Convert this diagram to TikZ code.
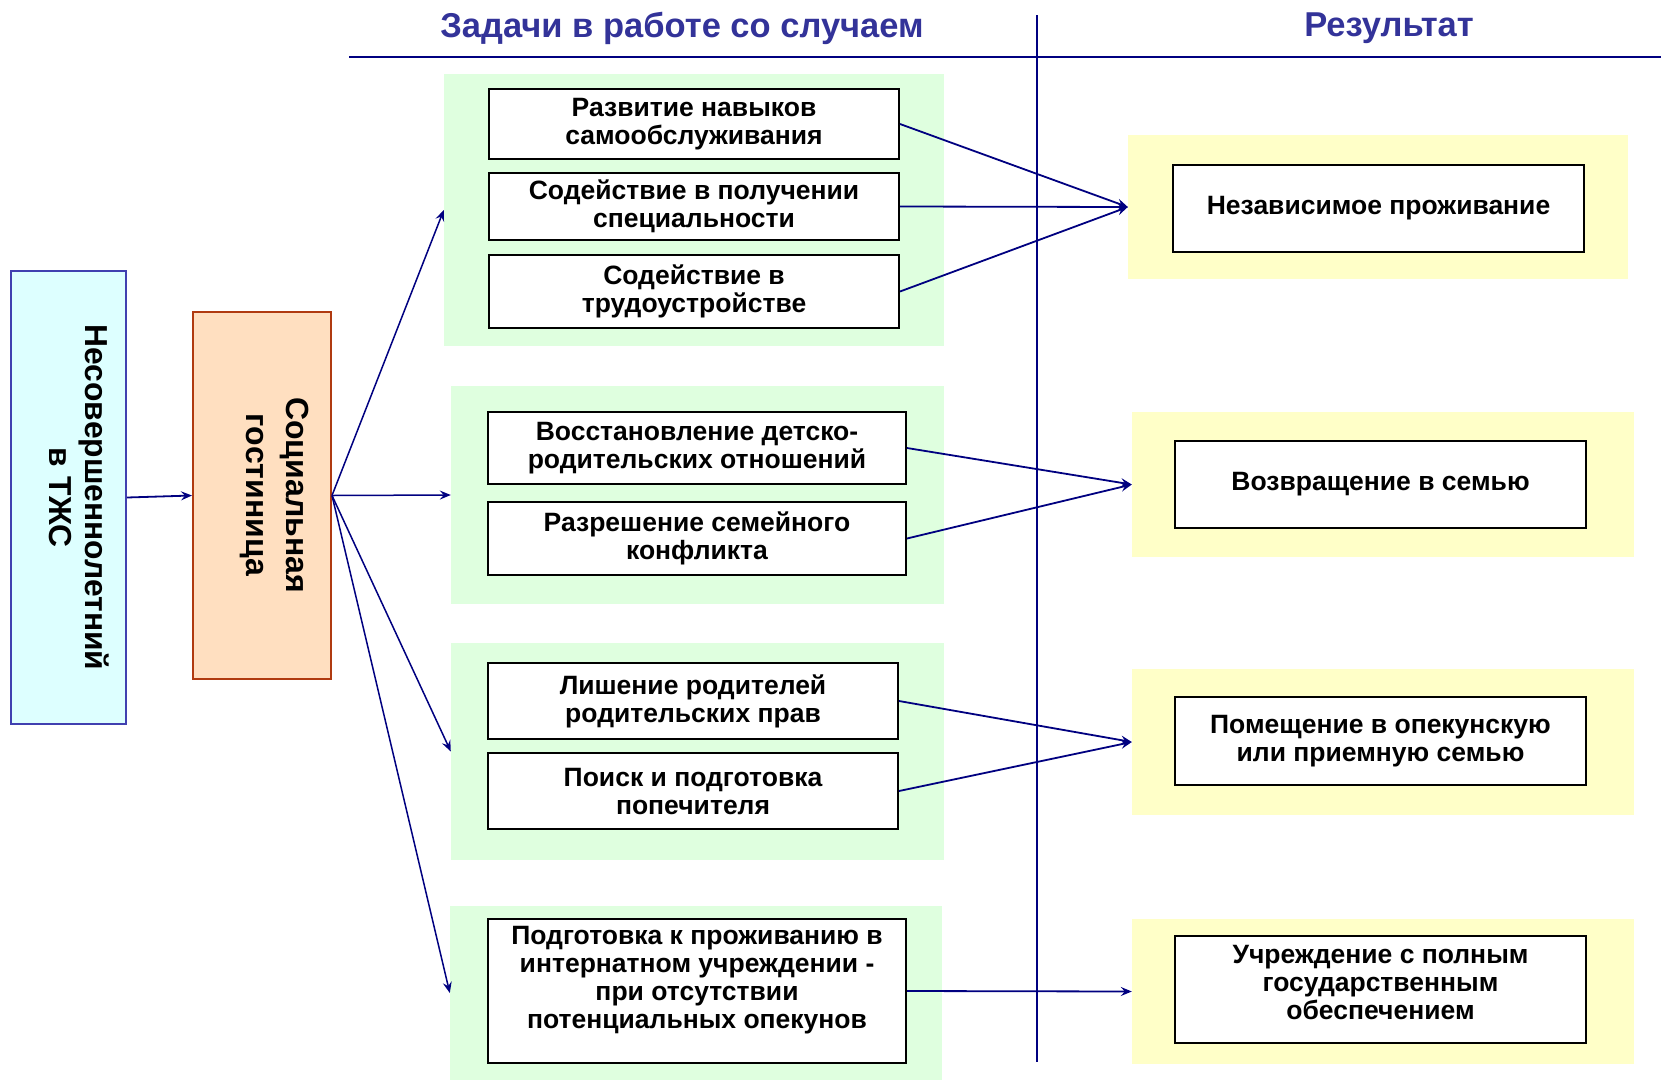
\documentclass[tikz,border=0pt]{standalone}
\usepackage{fontspec}
\setmainfont{Liberation Sans}
\usetikzlibrary{arrows.meta}
\definecolor{navy}{HTML}{000080}
\definecolor{titleblue}{HTML}{333399}
\definecolor{panelgreen}{HTML}{DFFFDF}
\definecolor{panelyellow}{HTML}{FFFFC8}
\definecolor{cyanfill}{HTML}{DDFFFF}
\definecolor{cyanborder}{HTML}{4040B0}
\definecolor{peachfill}{HTML}{FFDFC0}
\definecolor{peachborder}{HTML}{B03A10}
\tikzset{
  panel/.style={fill=#1, draw=none, inner sep=0pt, anchor=center},
  boxfont/.style={font=\fontsize{26.5}{28}\selectfont\bfseries},
  taskbox/.style={draw=black, line width=2pt, fill=white, inner sep=0pt, align=center, boxfont},
  conn/.style={draw=navy, line width=1.8pt, -{Stealth[length=11pt,width=9pt,inset=4pt]}},
  hdr/.style={font=\fontsize{34.5}{38}\selectfont\bfseries, text=titleblue},
}
\begin{document}
\begin{tikzpicture}[x=1pt,y=-1pt]
\useasboundingbox[fill=white] (0,0) rectangle (1661,1082);
% panels
\node[panel=panelgreen, minimum width=500pt, minimum height=272pt] (P1) at (694,210) {};
\node[panel=panelgreen, minimum width=493pt, minimum height=218pt] (P2) at (697.5,495) {};
\node[panel=panelgreen, minimum width=493pt, minimum height=217pt] (P3) at (697.5,751.5) {};
\node[panel=panelgreen, minimum width=492pt, minimum height=174pt] (P4) at (696,993) {};
\node[panel=panelyellow, minimum width=500pt, minimum height=144pt] (Y1) at (1378,207) {};
\node[panel=panelyellow, minimum width=502pt, minimum height=145pt] (Y2) at (1383,484.5) {};
\node[panel=panelyellow, minimum width=502pt, minimum height=146pt] (Y3) at (1383,742) {};
\node[panel=panelyellow, minimum width=502pt, minimum height=145pt] (Y4) at (1383,991.5) {};
% header lines
\coordinate (hl) at (349,57);
\coordinate (hr) at (1661,57);
\coordinate (vt) at (1037,15);
\coordinate (vb) at (1037,1062);
\draw[navy, line width=1.8pt] (hl) -- (hr);
\draw[navy, line width=1.8pt] (vt) -- (vb);
\node[hdr] (title1) at (682,28) {Задачи в работе со случаем};
\node[hdr] (title2) at (1389,28) {Результат};
% left boxes
\node[draw=cyanborder, fill=cyanfill, line width=2pt, minimum width=115pt, minimum height=453pt, inner sep=0pt] (L) at (68.5,497.5) {};
\node[rotate=-90, align=center, font=\fontsize{31.8}{36}\selectfont\bfseries] (Ltext) at (79,497.5) {Несовершеннолетний\\в ТЖС};
\node[draw=peachborder, fill=peachfill, line width=2pt, minimum width=138pt, minimum height=367pt, inner sep=0pt] (S) at (262,495.5) {};
\node[rotate=-90, align=center, font=\fontsize{32}{40}\selectfont\bfseries] (Stext) at (274,495) {Социальная\\гостиница};
% task boxes
\node[taskbox, minimum width=410pt, minimum height=70pt] (T1) at (694,124) {Развитие навыков\\самообслуживания};
\node[taskbox, minimum width=410pt, minimum height=67pt] (T2) at (694,206.5) {Содействие в получении\\специальности};
\node[taskbox, minimum width=410pt, minimum height=73pt] (T3) at (694,291.5) {Содействие в\\трудоустройстве};
\node[taskbox, minimum width=418pt, minimum height=72pt] (T4) at (697,448) {Восстановление детско-\\родительских отношений};
\node[taskbox, minimum width=418pt, minimum height=73pt] (T5) at (697,538.5) {Разрешение семейного\\конфликта};
\node[taskbox, minimum width=410pt, minimum height=76pt] (T6) at (693,701) {Лишение родителей\\родительских прав};
\node[taskbox, minimum width=410pt, minimum height=76pt] (T7) at (693,791) {Поиск и подготовка\\попечителя};
\node[taskbox, minimum width=418pt, minimum height=144pt] (T8) at (697,991) {};
\node[align=center, boxfont] (T8text) at (697,980) {Подготовка к проживанию в\\интернатном учреждении -\\при отсутствии\\потенциальных опекунов};
% result boxes
\node[taskbox, minimum width=411pt, minimum height=87pt] (R1) at (1378.5,208.5) {Независимое проживание};
\node[taskbox, minimum width=411pt, minimum height=87pt] (R2) at (1380.5,484.5) {Возвращение в семью};
\node[taskbox, minimum width=411pt, minimum height=88pt] (R3) at (1380.5,741) {Помещение в опекунскую\\или приемную семью};
\node[taskbox, minimum width=411pt, minimum height=107pt] (R4) at (1380.5,989.5) {};
\node[align=center, boxfont] (R4text) at (1380.5,982) {Учреждение с полным\\государственным\\обеспечением};
% connectors
\draw[conn] (L.east) -- (S.west);
\draw[conn, line width=1.5pt] (S.east) -- (P1.west);
\draw[conn, line width=1.5pt] (S.east) -- (P2.west);
\draw[conn, line width=1.5pt] (S.east) -- (P3.west);
\draw[conn, line width=1.5pt] (S.east) -- (P4.west);
\draw[conn] (T1.east) -- (Y1.west);
\draw[conn] (T2.east) -- (Y1.west);
\draw[conn] (T3.east) -- (Y1.west);
\draw[conn] (T4.east) -- (Y2.west);
\draw[conn] (T5.east) -- (Y2.west);
\draw[conn] (T6.east) -- (Y3.west);
\draw[conn] (T7.east) -- (Y3.west);
\draw[conn] (T8.east) -- (Y4.west);
\end{tikzpicture}
\end{document}
